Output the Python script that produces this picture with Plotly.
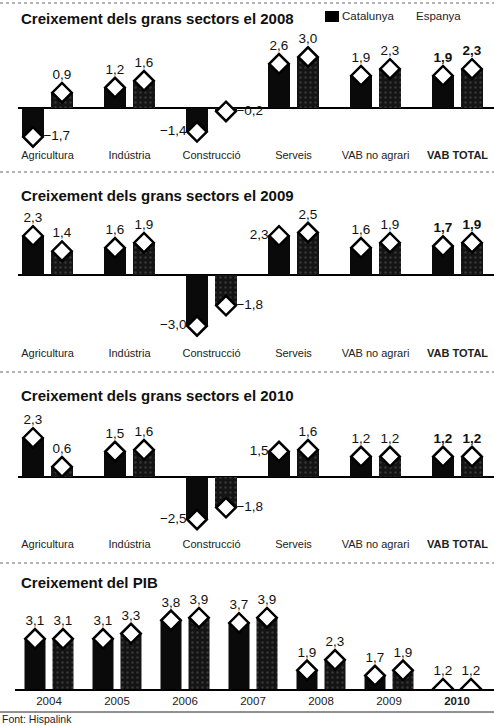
import plotly.graph_objects as go

# ---------------- data ----------------
sectors = ["Agricultura", "Indústria", "Construcció", "Serveis", "VAB no agrari", "VAB TOTAL"]
sector_labels = ["Agricultura", "Indústria", "Construcció", "Serveis", "VAB no agrari", "<b>VAB TOTAL</b>"]

cat_2008 = [-1.7, 1.2, -1.4, 2.6, 1.9, 1.9]
esp_2008 = [0.9, 1.6, -0.2, 3.0, 2.3, 2.3]
cat_2009 = [2.3, 1.6, -3.0, 2.3, 1.6, 1.7]
esp_2009 = [1.4, 1.9, -1.8, 2.5, 1.9, 1.9]
cat_2010 = [2.3, 1.5, -2.5, 1.5, 1.2, 1.2]
esp_2010 = [0.6, 1.6, -1.8, 1.6, 1.2, 1.2]

years = ["2004", "2005", "2006", "2007", "2008", "2009", "2010"]
year_labels = ["2004", "2005", "2006", "2007", "2008", "2009", "<b>2010</b>"]
pib_cat = [3.1, 3.1, 3.8, 3.7, 1.9, 1.7, 1.2]
pib_esp = [3.1, 3.3, 3.9, 3.9, 2.3, 1.9, 1.2]

titles = ["Creixement dels grans sectors el 2008",
          "Creixement dels grans sectors el 2009",
          "Creixement dels grans sectors el 2010",
          "Creixement del PIB"]

# ---------------- layout helpers ----------------
W, H = 494, 726
def py(px):
    return 1 - px / H
def pxx(px):
    return px / W

FONT = "Liberation Sans"
CAT_COLOR = "#0a0a0a"
ESP_COLOR = "#141414"
ESP_PATTERN = dict(shape=".", fgcolor="#5a5a5a", size=5, solidity=0.18)

fig = go.Figure()

def fmt(v, bold=False):
    s = f"{abs(v):.1f}".replace(".", ",")
    if v < 0:
        s = "\u2212" + s
    return f"<b>{s}</b>" if bold else s

# sector panels: (zero line px, domain top px, domain bottom px, title px)
panels = [
    (108, 30, 147, 18, cat_2008, esp_2008, "2008"),
    (275, 210, 345, 195, cat_2009, esp_2009, "2009"),
    (477, 405, 536, 395, cat_2010, esp_2010, "2010"),
]
S = 17.0  # px per unit
LEFT_LABELS = {("2009", "Serveis"), ("2010", "Serveis")}

SEC_PPC = 82.0
SEC_C0 = 47.5
SEC_LEFT = 18
sec_range = [(SEC_LEFT - SEC_C0) / SEC_PPC, (W - SEC_C0) / SEC_PPC]
SEC_DX = 14.5 / SEC_PPC
SEC_BW = 22 / SEC_PPC

for k, (zero, top, bot, tpx, cv, ev, yr) in enumerate(panels):
    ax = "" if k == 0 else str(k + 1)
    xa, ya = "x" + ax, "y" + ax
    idx = list(range(len(sectors)))
    for series, sign, color, name in [(cv, -1, CAT_COLOR, "Catalunya"), (ev, 1, ESP_COLOR, "Espanya")]:
        xs = [i + sign * SEC_DX for i in idx]
        pattern = None if name == "Catalunya" else ESP_PATTERN
        fig.add_trace(go.Bar(x=xs, y=series, width=SEC_BW, marker=dict(color=color, line=dict(width=0), pattern=pattern),
                             xaxis=xa, yaxis=ya, showlegend=False, name=name))
        texts, pos = [], []
        for i, v in enumerate(series):
            texts.append(fmt(v, bold=(sectors[i] == "VAB TOTAL")))
            if v >= 0:
                if name == "Catalunya" and (yr, sectors[i]) in LEFT_LABELS:
                    pos.append("middle left")
                else:
                    pos.append("top center")
            else:
                if name == "Espanya":
                    pos.append("middle right")
                else:
                    pos.append("middle left" if ev[i] < 0 else "middle right")
        fig.add_trace(go.Scatter(x=xs, y=series, mode="markers+text", text=texts, textposition=pos,
                                 marker=dict(symbol="diamond", size=15, color="white",
                                             line=dict(color="black", width=2.5)),
                                 textfont=dict(family=FONT, size=13.5, color="#111"),
                                 cliponaxis=False, xaxis=xa, yaxis=ya, showlegend=False, hoverinfo="skip"))
    ymax = (zero - top) / S
    ymin = -(bot - zero) / S
    fig.layout["xaxis" + ax] = dict(domain=[pxx(SEC_LEFT), 1], range=sec_range, anchor=ya,
                                    tickvals=idx, ticktext=sector_labels, showgrid=False, zeroline=False,
                                    showline=False, ticks="", tickfont=dict(family=FONT, size=11, color="#222"),
                                    fixedrange=True)
    fig.layout["yaxis" + ax] = dict(domain=[py(bot), py(top)], range=[ymin, ymax], anchor=xa,
                                    showgrid=False, showticklabels=False, zeroline=True,
                                    zerolinecolor="black", zerolinewidth=2, fixedrange=True)
    fig.add_annotation(text=f"<b>{titles[k]}</b>", xref="paper", yref="paper", x=pxx(19), y=py(tpx),
                       xanchor="left", yanchor="middle", showarrow=False,
                       font=dict(family=FONT, size=15, color="#111"))

# PIB panel
PIB_PPC = 68.0
PIB_C0 = 49.0
PIB_LEFT = 15
pib_range = [(PIB_LEFT - PIB_C0) / PIB_PPC, (W - PIB_C0) / PIB_PPC]
PIB_DX = 14 / PIB_PPC
PIB_BW = 21 / PIB_PPC
PIB_S = 26.3
PIB_BASE = 1.19
pib_bot, pib_top = 689, 590
idx = list(range(len(years)))
for series, sign, color, name in [(pib_cat, -1, CAT_COLOR, "Catalunya"), (pib_esp, 1, ESP_COLOR, "Espanya")]:
    xs = [i + sign * PIB_DX for i in idx]
    pattern = None if name == "Catalunya" else ESP_PATTERN
    fig.add_trace(go.Bar(x=xs, y=series, width=PIB_BW, marker=dict(color=color, line=dict(width=0), pattern=pattern),
                         xaxis="x4", yaxis="y4", showlegend=False, name=name))
    fig.add_trace(go.Scatter(x=xs, y=series, mode="markers+text", text=[fmt(v) for v in series],
                             textposition="top center",
                             marker=dict(symbol="diamond", size=15, color="white",
                                         line=dict(color="black", width=2.5)),
                             textfont=dict(family=FONT, size=13.5, color="#111"),
                             cliponaxis=True, xaxis="x4", yaxis="y4", showlegend=False, hoverinfo="skip"))
fig.layout["xaxis4"] = dict(domain=[pxx(PIB_LEFT), 1], range=pib_range, anchor="y4",
                            tickvals=idx, ticktext=year_labels, showgrid=False, zeroline=False,
                            showline=True, linecolor="black", linewidth=1.5, ticks="",
                            tickfont=dict(family=FONT, size=11.5, color="#222"), fixedrange=True)
fig.layout["yaxis4"] = dict(domain=[py(pib_bot), py(pib_top)],
                            range=[PIB_BASE, PIB_BASE + (pib_bot - pib_top) / PIB_S], anchor="x4",
                            showgrid=False, showticklabels=False, zeroline=False, fixedrange=True)
fig.add_annotation(text=f"<b>{titles[3]}</b>", xref="paper", yref="paper", x=pxx(19), y=py(582),
                   xanchor="left", yanchor="middle", showarrow=False,
                   font=dict(family=FONT, size=15, color="#111"))

# legend (decorative)
fig.add_shape(type="rect", xref="paper", yref="paper", x0=pxx(325), x1=pxx(339), y0=py(22), y1=py(11),
              fillcolor="black", line=dict(width=0))
fig.add_annotation(text="Catalunya", xref="paper", yref="paper", x=pxx(340), y=py(16.5), xanchor="left",
                   yanchor="middle", showarrow=False, font=dict(family=FONT, size=11.5, color="#222"))
fig.add_annotation(text="Espanya", xref="paper", yref="paper", x=pxx(414), y=py(16.5), xanchor="left",
                   yanchor="middle", showarrow=False, font=dict(family=FONT, size=11.5, color="#222"))

# separators
for ypx in [3, 172, 372, 563]:
    fig.add_shape(type="line", xref="paper", yref="paper", x0=0, x1=1, y0=py(ypx), y1=py(ypx),
                  line=dict(color="#9a9a9a", width=1.5, dash="dot"))
fig.add_shape(type="line", xref="paper", yref="paper", x0=0, x1=1, y0=py(712), y1=py(712),
              line=dict(color="#222", width=1))

fig.add_annotation(text="Font: Hispalink", xref="paper", yref="paper", x=0, y=py(719), xanchor="left",
                   yanchor="middle", showarrow=False, font=dict(family=FONT, size=10.5, color="#222"))

fig.update_layout(width=W, height=H, margin=dict(l=0, r=0, t=0, b=0), barmode="overlay",
                  paper_bgcolor="white", plot_bgcolor="white", showlegend=False)

fig.write_html("out.html", config={"displayModeBar": False},
               post_script="document.body.style.margin='0';document.body.style.overflow='hidden';")
